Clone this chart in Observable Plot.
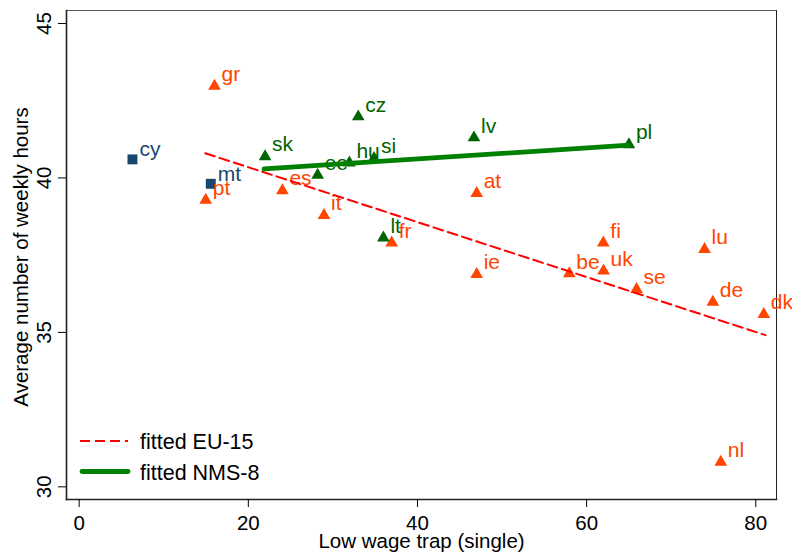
<!DOCTYPE html>
<html><head><meta charset="utf-8">
<script src="https://cdn.jsdelivr.net/npm/d3@7"></script>
<script src="https://cdn.jsdelivr.net/npm/@observablehq/plot@0.6"></script>
<style>
body{margin:0;background:#fff;font-family:"Liberation Sans",Arial,sans-serif;}
#wrap{position:relative;width:792px;height:555px;overflow:hidden;}
#legend{position:absolute;left:0;top:0;pointer-events:none;}
</style></head><body>
<div id="wrap"><div id="chart"></div>
<svg id="legend" width="792" height="555" font-family="Liberation Sans, Arial, sans-serif" font-size="21.5">
  <line x1="80" x2="128" y1="441" y2="441" stroke="#ff0000" stroke-width="2" stroke-dasharray="10,5"/>
  <text x="140" y="448.5" fill="#000">fitted EU-15</text>
  <line x1="82" x2="128" y1="471.5" y2="471.5" stroke="#008000" stroke-width="4.8" stroke-linecap="round"/>
  <text x="140" y="479.5" fill="#000">fitted NMS-8</text>
</svg>
</div>
<script>
// EU-15 countries
const euCodes = ["gr","pt","es","it","fr","at","ie","be","fi","uk","se","lu","de","dk","nl"];
const euX     = [16.0, 14.96, 24.03, 28.95, 36.95, 47.0, 47.0, 57.95, 61.97, 62.0, 65.9, 73.94, 74.92, 80.95, 75.86];
const euY     = [43.03, 39.34, 39.65, 38.85, 37.96, 39.56, 36.94, 36.96, 37.96, 37.05, 36.45, 37.75, 36.04, 35.64, 30.86];
// NMS-8 countries
const nmsCodes = ["sk","ee","hu","si","cz","lt","lv","pl"];
const nmsX     = [21.98, 28.2, 31.95, 34.86, 33.0, 35.97, 46.68, 65.0];
const nmsY     = [40.75, 40.15, 40.55, 40.69, 42.04, 38.12, 41.36, 41.14];
// Other new member states
const othCodes = ["cy","mt"];
const othX     = [6.3, 15.56];
const othY     = [40.6, 39.81];
// Fitted lines (end points)
const fitEuX  = [14.9, 81.15];
const fitEuY  = [40.8, 34.91];
const fitNmsX = [21.86, 65.0];
const fitNmsY = [40.29, 41.06];
// Ticks
const xTicks = [0, 20, 40, 60, 80];
const yTicks = [30, 35, 40, 45];
const xTitle = "Low wage trap (single)";
const yTitle = "Average number of weekly hours";

const toRows = (codes, xs, ys) => codes.map((c, i) => ({code: c, x: xs[i], y: ys[i]}));
const eu = toRows(euCodes, euX, euY);
const nms = toRows(nmsCodes, nmsX, nmsY);
const oth = toRows(othCodes, othX, othY);
const fitEu = fitEuX.map((x, i) => ({x, y: fitEuY[i]}));
const fitNms = fitNmsX.map((x, i) => ({x, y: fitNmsY[i]}));

const ORANGE = "#ff4500", DKGREEN = "#006400", GREEN = "#008000", NAVY = "#1a476f";
const labelOpts = {x: "x", y: "y", text: "code", textAnchor: "start", lineAnchor: "middle", dx: 7, dy: -10, fontSize: 21};

const chart = Plot.plot({
  width: 792, height: 555,
  marginLeft: 66, marginRight: 16, marginTop: 10, marginBottom: 56,
  style: {fontFamily: "Liberation Sans, Arial, sans-serif", fontSize: "20px", background: "white", color: "black", overflow: "visible"},
  x: {domain: [-1.5, 82.45]},
  y: {domain: [29.59, 45.42]},
  marks: [
    Plot.frame({stroke: "#555", strokeWidth: 1}),
    Plot.frame({anchor: "left", stroke: "#222", strokeWidth: 1.6}),
    Plot.frame({anchor: "bottom", stroke: "#222", strokeWidth: 1.6}),
    Plot.frame({anchor: "right", stroke: "#222", strokeWidth: 1}),
    Plot.axisX({ticks: xTicks, tickSize: 8, tickPadding: 8, fontSize: 20.5, label: null, tickFormat: d => String(d)}),
    Plot.axisY({ticks: yTicks, tickSize: 8, tickPadding: 8, tickRotate: -90, fontSize: 20.5, label: null, tickFormat: d => String(d)}),
    Plot.text([xTitle], {frameAnchor: "bottom", textAnchor: "middle", lineAnchor: "middle", dy: 42, fontSize: 20.5, fill: "black"}),
    Plot.text([yTitle], {frameAnchor: "left", textAnchor: "middle", lineAnchor: "middle", rotate: -90, dx: -45.5, dy: 2, fontSize: 20.5, fill: "black"}),
    Plot.dot(oth, {x: "x", y: "y", symbol: "square", r: 5.6, fill: NAVY, stroke: "none"}),
    Plot.dot(eu, {x: "x", y: "y", symbol: "triangle", r: 4.7, fill: ORANGE, stroke: "none", dy: 1.8}),
    Plot.dot(nms, {x: "x", y: "y", symbol: "triangle", r: 4.7, fill: DKGREEN, stroke: "none", dy: 1.8}),
    Plot.text(oth, {...labelOpts, fill: NAVY}),
    Plot.text(eu, {...labelOpts, fill: ORANGE}),
    Plot.text(nms, {...labelOpts, fill: DKGREEN}),
    Plot.line(fitEu, {x: "x", y: "y", stroke: "#ff0000", strokeWidth: 2, strokeDasharray: "10,5"}),
    Plot.line(fitNms, {x: "x", y: "y", stroke: GREEN, strokeWidth: 4.8})
  ]
});
document.getElementById("chart").appendChild(chart);
</script>
</body></html>
